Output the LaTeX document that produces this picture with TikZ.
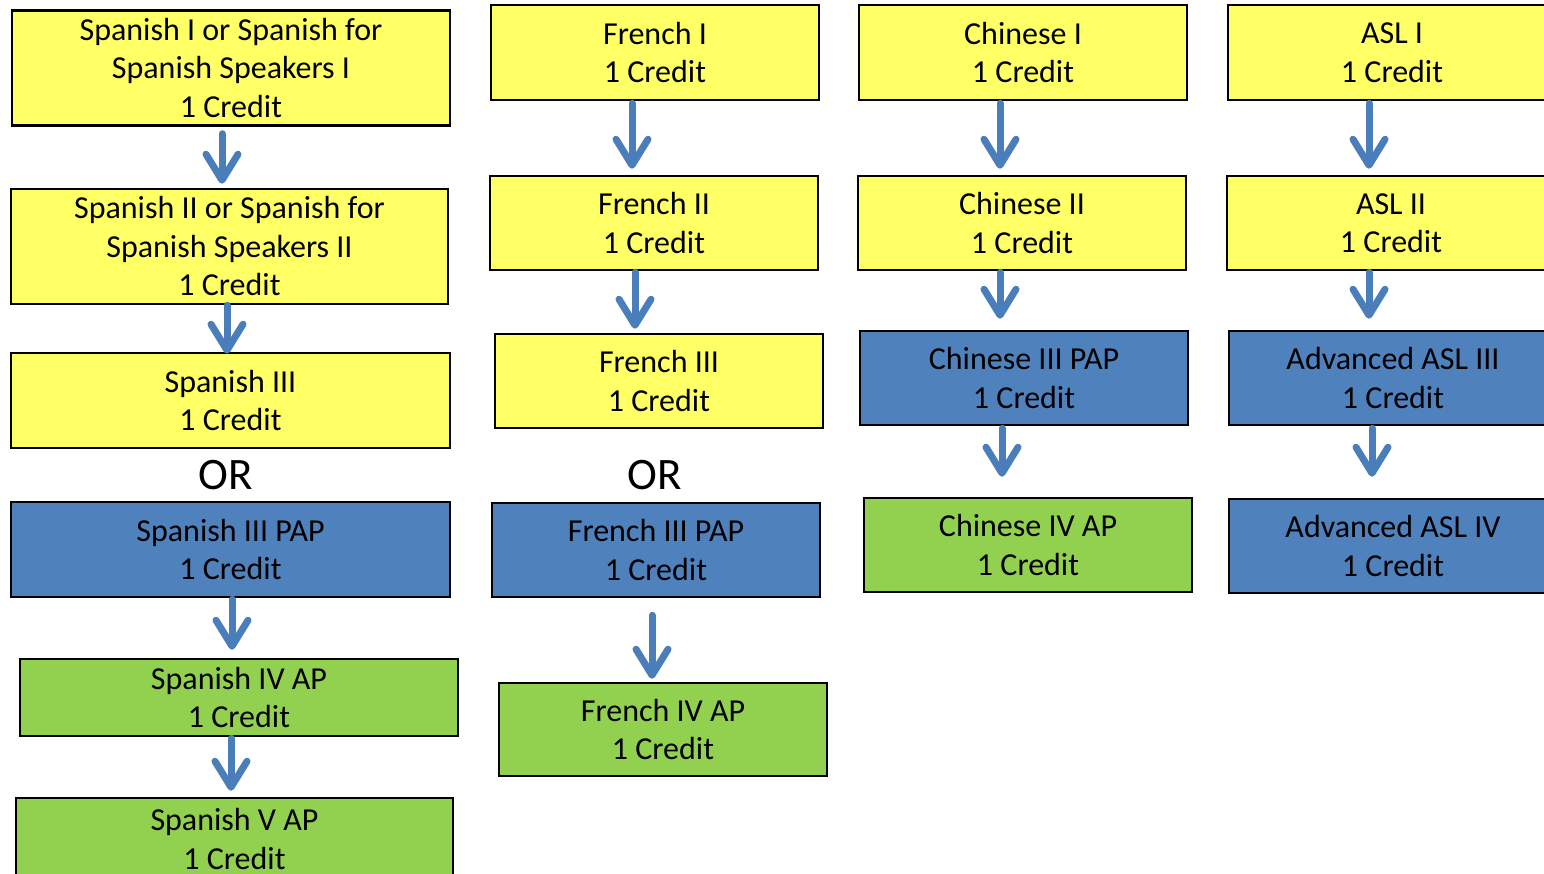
\documentclass[tikz,border=0pt]{standalone}
\usepackage{fontspec}
\setmainfont{Carlito}
\usetikzlibrary{arrows.meta}
\definecolor{cyel}{HTML}{FFFF66}
\definecolor{cblu}{HTML}{4F81BD}
\definecolor{cgrn}{HTML}{92D050}
\definecolor{carr}{HTML}{4A7EBB}
\tikzset{
  crsbox/.style={draw=black, line width=2.5pt, inner sep=0pt, align=center,
    font=\fontsize{32}{38.5}\selectfont, text=black},
  wbox/.style={crsbox, minimum width=438pt},
  nbox/.style={crsbox, minimum width=328pt},
  ybox/.style={fill=cyel},
  bbox/.style={fill=cblu},
  gbox/.style={fill=cgrn},
  ortext/.style={font=\fontsize{45}{50}\selectfont, inner sep=0pt},
  arr/.style={draw=carr, line width=7pt, line cap=round,
    -{Straight Barb[length=26pt, width=32pt, round]}},
}
\begin{document}
\begin{tikzpicture}[x=1pt, y=-1pt]
\useasboundingbox (0,0) rectangle (1544,874);
% Spanish column
\node[wbox, ybox, minimum height=115pt] (S1) at (231,68) {Spanish I or Spanish for\\Spanish Speakers I\\1 Credit};
\node[wbox, ybox, minimum height=115pt, minimum width=437pt] (S2) at (229.5,246.5) {Spanish II or Spanish for\\Spanish Speakers II\\1 Credit};
\node[wbox, ybox, minimum height=95pt, minimum width=439pt] (S3) at (230.5,400.5) {Spanish III\\1 Credit};
\node[ortext] (OR1) at (226,475) {OR};
\node[wbox, bbox, minimum height=95pt, minimum width=439pt] (S3P) at (230.5,549.5) {Spanish III PAP\\1 Credit};
\node[wbox, gbox, minimum height=77pt] (S4) at (239,697.5) {Spanish IV AP\\1 Credit};
\node[wbox, gbox, minimum height=82pt, minimum width=437pt] (S5) at (234.5,839) {Spanish V AP\\1 Credit};
% French column
\node[nbox, ybox, minimum height=95pt] (F1) at (655,52.5) {French I\\1 Credit};
\node[nbox, ybox, minimum height=94pt] (F2) at (654,223) {French II\\1 Credit};
\node[nbox, ybox, minimum height=94pt] (F3) at (659,381) {French III\\1 Credit};
\node[ortext] (OR2) at (655,475) {OR};
\node[nbox, bbox, minimum height=94pt] (F3P) at (656,550) {French III PAP\\1 Credit};
\node[nbox, gbox, minimum height=93pt] (F4) at (663,729.5) {French IV AP\\1 Credit};
% Chinese column
\node[nbox, ybox, minimum height=95pt] (C1) at (1023,52.5) {Chinese I\\1 Credit};
\node[nbox, ybox, minimum height=94pt] (C2) at (1022,223) {Chinese II\\1 Credit};
\node[nbox, bbox, minimum height=94pt] (C3) at (1024,378) {Chinese III PAP\\1 Credit};
\node[nbox, gbox, minimum height=94pt] (C4) at (1028,545) {Chinese IV AP\\1 Credit};
% ASL column
\node[nbox, ybox, minimum height=95pt] (A1) at (1392,52.5) {ASL I\\1 Credit};
\node[nbox, ybox, minimum height=94pt] (A2) at (1391,223) {ASL II\\1 Credit};
\node[nbox, bbox, minimum height=94pt] (A3) at (1393,378) {Advanced ASL III\\1 Credit};
\node[nbox, bbox, minimum height=94pt] (A4) at (1393,546) {Advanced ASL IV\\1 Credit};
% arrows
\draw[arr] ([xshift=-9pt,yshift=-7pt]S1.south) -- ([xshift=-7.5pt,yshift=4pt]S2.north);
\draw[arr] ([xshift=-2.5pt,yshift=0pt]S2.south) -- ([xshift=-3.5pt,yshift=-2pt]S3.north);
\draw[arr] ([xshift=1.5pt,yshift=-1pt]S3P.south) -- ([xshift=-7pt,yshift=8pt]S4.north);
\draw[arr] ([xshift=-8pt,yshift=-1pt]S4.south) -- ([xshift=-3.5pt,yshift=6pt]S5.north);
\draw[arr] ([xshift=-23pt,yshift=-2pt]F1.south) -- ([xshift=-22pt,yshift=6pt]F2.north);
\draw[arr] ([xshift=-19pt,yshift=-1pt]F2.south) -- ([xshift=-24pt,yshift=4pt]F3.north);
\draw[arr] ([xshift=-4pt,yshift=-17pt]F3P.south) -- ([xshift=-11pt,yshift=3pt]F4.north);
\draw[arr] ([xshift=-23pt,yshift=-2pt]C1.south) -- ([xshift=-22pt,yshift=6pt]C2.north);
\draw[arr] ([xshift=-22pt,yshift=-1pt]C2.south) -- ([xshift=-24pt,yshift=11pt]C3.north);
\draw[arr] ([xshift=-22pt,yshift=-2pt]C3.south) -- ([xshift=-26pt,yshift=20pt]C4.north);
\draw[arr] ([xshift=-23pt,yshift=-2pt]A1.south) -- ([xshift=-22pt,yshift=6pt]A2.north);
\draw[arr] ([xshift=-22pt,yshift=-1pt]A2.south) -- ([xshift=-24pt,yshift=11pt]A3.north);
\draw[arr] ([xshift=-21pt,yshift=-2pt]A3.south) -- ([xshift=-21pt,yshift=21pt]A4.north);
\end{tikzpicture}
\end{document}
